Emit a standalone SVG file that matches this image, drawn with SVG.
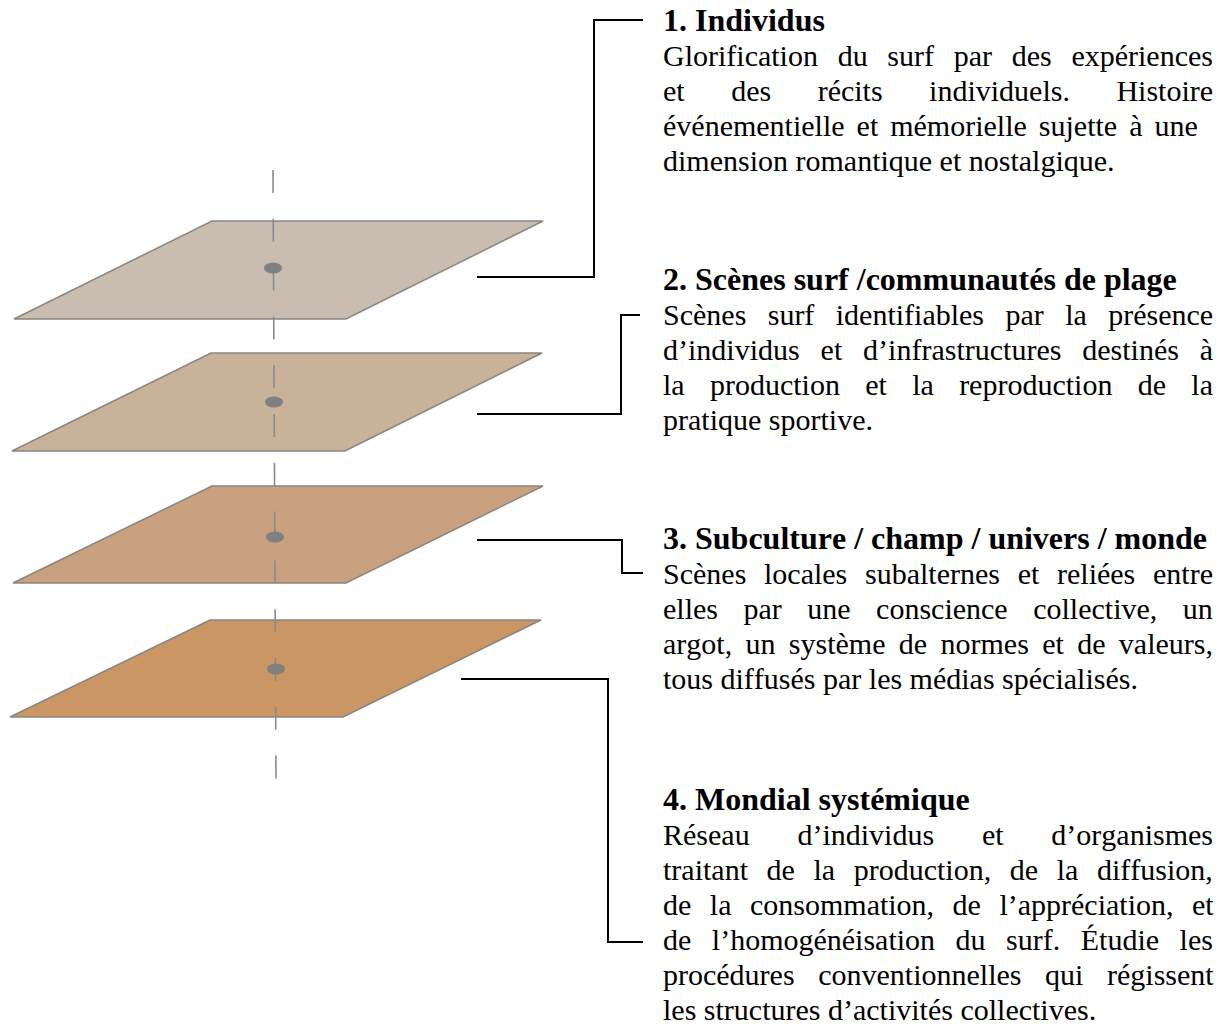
<svg xmlns="http://www.w3.org/2000/svg" width="1227" height="1028" viewBox="0 0 1227 1028">
<style>
text{font-family:"Liberation Serif","Times New Roman",serif;font-size:30px;fill:#000;font-kerning:none}
.h{font-weight:bold;font-size:32px}
.plane{stroke:#8a857f;stroke-width:1.5;stroke-linejoin:miter}
.dot{fill:#808080}
.axis{stroke:#8a8a8a;stroke-width:1.6;stroke-dasharray:23 25.8;fill:none}
.conn{fill:none;stroke:#000;stroke-width:2}
</style>
<rect width="1227" height="1028" fill="#fff"/>
<g id="plane1"><polygon class="plane" points="212,221 543,221 346,319 14,319" fill="#c9bdb1"/></g>
<g id="plane2"><polygon class="plane" points="211,353 542,353 345,451 12,451" fill="#c8b39a"/></g>
<g id="plane3"><polygon class="plane" points="212,486 543,486 346,583 13,583" fill="#c9a17e"/></g>
<g id="plane4"><polygon class="plane" points="210,620 541,620 343,717 10,717" fill="#c99664"/></g>
<g id="axis">
<line class="axis" x1="273" y1="170" x2="276" y2="781"/>
<ellipse class="dot" cx="273" cy="268" rx="9" ry="5.5"/>
<ellipse class="dot" cx="274" cy="402" rx="9" ry="5.5"/>
<ellipse class="dot" cx="275" cy="537" rx="9" ry="5.5"/>
<ellipse class="dot" cx="276" cy="669" rx="9" ry="5.5"/>
</g>
<g id="connectors">
<polyline class="conn" points="477,277 594,277 594,20 643,20"/>
<polyline class="conn" points="477,414 621,414 621,315 640,315"/>
<polyline class="conn" points="477,540 622,540 622,573 643,573"/>
<polyline class="conn" points="461,679 608,679 608,942 643,942"/>
</g>
<g id="label1">
<text class="h" x="663" y="31">1. Individus</text>
<text x="663" y="66" word-spacing="12.2">Glorification du surf par des expériences</text>
<text x="663" y="101" word-spacing="39.0">et des récits individuels. Histoire</text>
<text x="663" y="136" word-spacing="4.5">événementielle et mémorielle sujette à une</text>
<text x="663" y="171">dimension romantique et nostalgique.</text>
</g>
<g id="label2">
<text class="h" x="663" y="290">2. Scènes surf /communautés de plage</text>
<text x="663" y="325" word-spacing="13.9">Scènes surf identifiables par la présence</text>
<text x="663" y="360" word-spacing="13.4">d’individus et d’infrastructures destinés à</text>
<text x="663" y="395" word-spacing="17.8">la production et la reproduction de la</text>
<text x="663" y="430">pratique sportive.</text>
</g>
<g id="label3">
<text class="h" x="663" y="549">3. Subculture / champ / univers / monde</text>
<text x="663" y="584" word-spacing="10.2">Scènes locales subalternes et reliées entre</text>
<text x="663" y="619" word-spacing="18.0">elles par une conscience collective, un</text>
<text x="663" y="654" word-spacing="5.85">argot, un système de normes et de valeurs,</text>
<text x="663" y="689">tous diffusés par les médias spécialisés.</text>
</g>
<g id="label4">
<text class="h" x="663" y="810">4. Mondial systémique</text>
<text x="663" y="845" word-spacing="40.3">Réseau d’individus et d’organismes</text>
<text x="663" y="880" word-spacing="11.1">traitant de la production, de la diffusion,</text>
<text x="663" y="915" word-spacing="11.0">de la consommation, de l’appréciation, et</text>
<text x="663" y="950" word-spacing="13.0">de l’homogénéisation du surf. Étudie les</text>
<text x="663" y="985" word-spacing="16.1">procédures conventionnelles qui régissent</text>
<text x="663" y="1020">les structures d’activités collectives.</text>
</g>
</svg>
